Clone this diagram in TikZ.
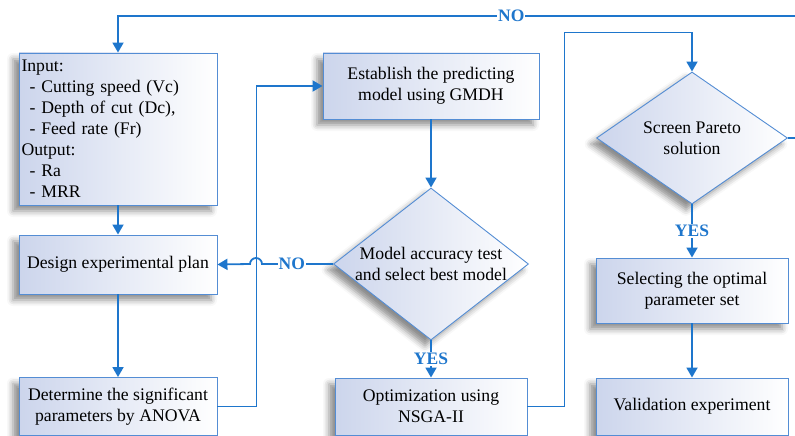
\documentclass[tikz,border=0pt]{standalone}
\usepackage{fontspec}
\setmainfont{Liberation Serif}
\usetikzlibrary{arrows.meta,shapes.geometric,shadows.blur}
\definecolor{flowblue}{RGB}{30,118,204}
\definecolor{boxline}{RGB}{84,141,212}
\definecolor{boxfill}{RGB}{204,213,236}
\tikzset{
	box/.style={draw=boxline,line width=0.9pt,left color=boxfill,right color=white,
		blur shadow={shadow xshift=-6pt,shadow yshift=-6pt,shadow blur radius=6pt,shadow opacity=45},
		inner sep=2pt,align=center,font=\fontsize{17.7}{21}\selectfont},
	decision/.style={box,diamond,aspect=1.3,inner sep=-6pt},
	flow/.style={draw=flowblue,line width=1.8pt,-{Triangle[width=11pt,length=10pt]}},
	link/.style={draw=flowblue,line width=1.8pt},
	answer/.style={fill=white,text=flowblue,inner sep=1pt,font=\bfseries\fontsize{17.5}{20}\selectfont}
}
\begin{document}
\begin{tikzpicture}[x=1pt,y=-1pt]
	\useasboundingbox (0,0) rectangle (795,436);

	\node[box,minimum width=198pt,minimum height=152pt,text width=193pt,align=left] (input) at (118,129)
		{Input:\\ \hspace*{8pt}- Cutting speed (Vc)\\ \hspace*{8pt}- Depth of cut (Dc),\\ \hspace*{8pt}- Feed rate (Fr)\\
		Output:\\ \hspace*{8pt}- Ra\\ \hspace*{8pt}- MRR};
	\node[box,minimum width=198pt,minimum height=59pt] (design) at (118,264.5) {Design experimental plan};
	\node[box,minimum width=198pt,minimum height=58pt] (anova) at (118,406.5) {Determine the significant\\parameters by ANOVA};
	\node[box,minimum width=216pt,minimum height=66pt] (gmdh) at (431,86) {Establish the predicting\\model using GMDH};
	\node[decision,minimum width=195pt,minimum height=152pt] (accuracy) at (431,264) {Model accuracy test\\and select best model};
	\node[box,minimum width=192pt,minimum height=57pt] (nsga) at (431,406.5) {Optimization using\\NSGA-II};
	\node[decision,minimum width=191pt,minimum height=132pt] (pareto) at (692,138) {Screen Pareto\\solution};
	\node[box,minimum width=192pt,minimum height=65pt] (optimal) at (692,290.5) {Selecting the optimal\\parameter set};
	\node[box,minimum width=192pt,minimum height=57pt] (validation) at (692,406.5) {Validation experiment};

	\coordinate (outT) at (796,16);
	\coordinate (outR) at (796,138);

	% left column
	\draw[flow] (input) -- (design);
	\draw[flow] (design) -- (anova);
	\draw[flow] (anova.east) -- ++(39,0) |- (gmdh.west);

	% middle column
	\draw[flow] (gmdh) -- (accuracy);
	\draw[flow] (accuracy.west) -- node[answer,pos=0.58]{NO} (262,264) arc[start angle=0,end angle=180,radius=6pt] -- (design.east);
	\draw[flow] (accuracy.south) -- node[answer]{YES} (nsga.north);
	\draw[flow] (nsga.east) -- ++(37,0) |- ([yshift=39pt]pareto.north) -- (pareto.north);

	% right column
	\draw[flow] (pareto.south) -- node[answer]{YES} (optimal.north);
	\draw[flow] (optimal) -- (validation);
	\draw[link] (pareto.east) -- (outR);
	\draw[flow] (outT) -- node[answer,pos=0.42]{NO} (118,16) -- (input.north);
\end{tikzpicture}
\end{document}
